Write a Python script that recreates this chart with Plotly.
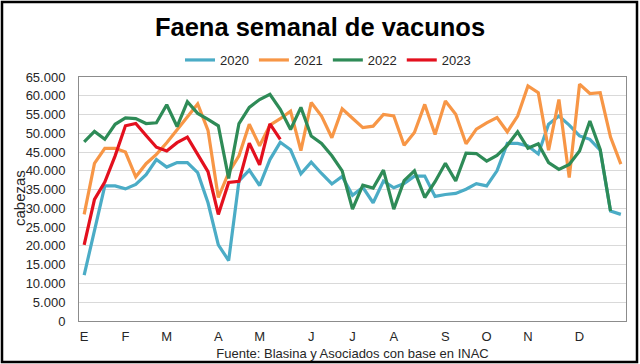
import plotly.graph_objects as go

weeks = list(range(1, 54))

v2020 = [12200, 24000, 36000, 36000, 35200, 36400, 39000, 43000, 41000, 42200,
         42200, 39500, 31500, 20300, 16100, 37300, 40200, 36100, 43000, 47600,
         45600, 39200, 42300, 39300, 36500, 38500, 33500, 35600, 31500, 37300,
         35500, 36600, 38600, 38600, 33200, 33700, 34000, 35100, 36600, 36000,
         40000, 47300, 47300, 46600, 44500, 52400, 54600, 52200, 49300, 48400,
         45500, 29300, 28400]

v2021 = [28400, 42000, 46000, 46000, 45000, 38400, 41900, 44400, 47500, 51000,
         54400, 57800, 50800, 32900, 39500, 44000, 52400, 46700, 52200, 53900,
         55900, 45400, 58200, 54600, 48800, 56500, 54000, 51500, 51900, 55000,
         54600, 46800, 50200, 57700, 49700, 58600, 55100, 47200, 51100, 52800,
         54200, 50400, 54600, 62600, 60800, 45500, 59000, 38200, 63100, 60600,
         60800, 49000, 41800]

v2022 = [47700, 50500, 48400, 52400, 54100, 53900, 52600, 52800, 57600, 51800,
         58400, 55300, 53700, 52000, 38000, 52600, 56900, 59000, 60400, 56400,
         51000, 56900, 49300, 47300, 44000, 40000, 29800, 36200, 35400, 40200,
         29800, 37400, 40000, 32900, 37100, 42000, 37300, 44700, 44600, 42600,
         44100, 46800, 50400, 46000, 47200, 42200, 40400, 41700, 45300, 53300,
         45700, 29300, None]

v2023 = [20300, 32400, 37000, 44000, 52000, 52600, 49400, 46300, 45300, 47500,
         49000, 44200, 39800, 28400, 36900, 37200, 47400, 41600, 52500, 48400]

month_weeks = [1, 5, 9, 14, 18, 23, 27, 31, 36, 40, 44, 49]
month_labels = ["E", "F", "M", "A", "M", "J", "J", "A", "S", "O", "N", "D"]

series = [
    ("2020", v2020, "#4BACC6"),
    ("2021", v2021, "#F79646"),
    ("2022", v2022, "#2E8B57"),
    ("2023", v2023, "#E3101E"),
]

fig = go.Figure()
for name, vals, color in series:
    fig.add_trace(go.Scatter(
        x=weeks[:len(vals)], y=vals, name=name, mode="lines",
        line=dict(color=color, width=3.2),
    ))

L, R, T, B = 79, 14, 77, 43
W, H = 640, 364
pw, ph = W - L - R, H - T - B

def px(x):
    return (x - L) / pw

def py(y):
    return (H - B - y) / ph

fig.update_layout(
    width=W, height=H,
    margin=dict(l=L, r=R, t=T, b=B, autoexpand=False),
    paper_bgcolor="white", plot_bgcolor="white",
    separators=",.",
    font=dict(family="Liberation Sans, Arial, sans-serif", color="#262626"),
    title=dict(text="<b>Faena semanal de vacunos</b>", x=0.5, xref="container",
               xanchor="center", y=1 - 27 / H, yanchor="middle",
               font=dict(size=25.5, color="#000000")),
    legend=dict(orientation="h", x=px(328), xanchor="center", xref="paper",
                y=py(60), yanchor="middle", font=dict(size=13, color="#262626"),
                itemwidth=30, tracegroupgap=0, bgcolor="rgba(0,0,0,0)"),
    showlegend=True,
    xaxis=dict(range=[0.5, 53.5], tickmode="array", tickvals=month_weeks,
               ticktext=month_labels, showgrid=False, zeroline=False,
               showline=True, linecolor="#8c8c8c", linewidth=1, mirror=True,
               ticks="", ticklabelstandoff=3, tickfont=dict(size=13, color="#262626"),
               title=dict(text="Fuente: Blasina y Asociados con base en INAC",
                          font=dict(size=13, color="#262626"), standoff=6)),
    yaxis=dict(range=[0, 65000], tickmode="linear", tick0=0, dtick=5000,
               tickformat=",d", showgrid=True, gridcolor="#d9d9d9", gridwidth=1,
               zeroline=False, showline=True, linecolor="#8c8c8c", linewidth=1,
               mirror=True, ticks="", ticklabelstandoff=10,
               tickfont=dict(size=13, color="#262626")),
    annotations=[dict(text="cabezas", xref="paper", yref="paper",
                      x=px(19), y=py(198), xanchor="center", yanchor="middle",
                      textangle=-90, showarrow=False,
                      font=dict(size=15, color="#262626"))],
    shapes=[dict(type="rect", xref="paper", yref="paper",
                 x0=px(2), x1=px(637), y0=py(362), y1=py(2),
                 line=dict(color="black", width=2.5), fillcolor="rgba(0,0,0,0)",
                 layer="above")],
)

fig.write_html("out.html", config={"displayModeBar": False},
               post_script="document.body.style.margin='0';document.body.style.overflow='hidden';")
